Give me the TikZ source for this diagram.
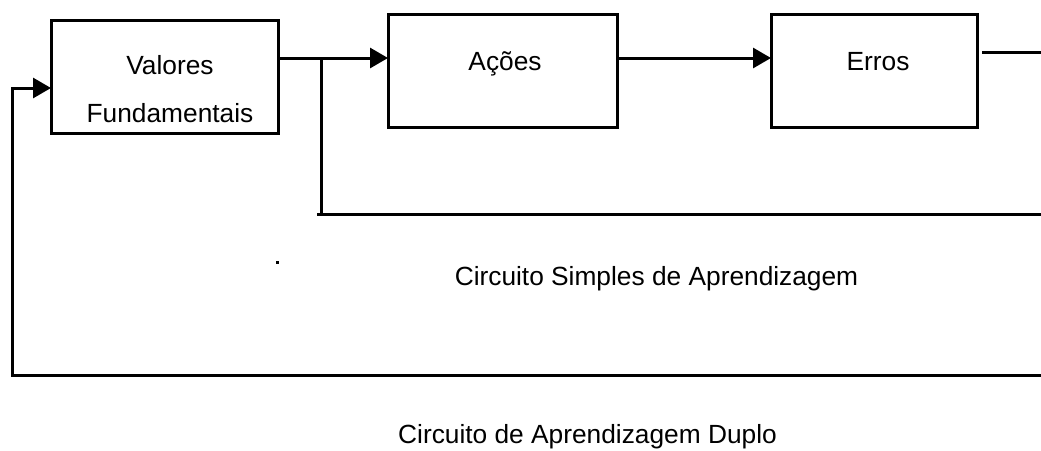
\documentclass[tikz,border=0pt]{standalone}
\usepackage{fontspec}
\setmainfont{Liberation Sans}
\usetikzlibrary{arrows.meta}
\begin{document}
\begin{tikzpicture}[x = 1pt, y = -1pt, line width = 3pt,
		bloco/.style = {draw, rectangle, inner sep = 0, outer sep = 0, minimum height = 113pt},
		rotulo/.style = {anchor = base, inner sep = 0, font = \fontsize{26.3}{48}\selectfont},
		seta/.style = {-{Triangle[length = 18pt, width = 20pt]}}]
	\useasboundingbox (0, 0) rectangle (1041, 450) ;
	\begin{scope} % Blocos
		\node [bloco, minimum width = 227pt] (valores) at (164.5, 76.5) {} ;
		\node [bloco, minimum width = 229pt] (acoes) at (502.5, 70.5) {} ;
		\node [bloco, minimum width = 206pt] (erros) at (874, 70.5) {} ;
		\node [rotulo, align = center] (valorestxt) at (170, 122) {Valores\\Fundamentais} ;
		\node [rotulo] (acoestxt) at (505, 70) {Ações} ;
		\node [rotulo] (errostxt) at (878, 70) {Erros} ;
	\end{scope}
	\coordinate (topo) at (0, 58) ;
	\coordinate (ramo) at (321, 58) ;
	\coordinate (simples) at (321, 214) ;
	\coordinate (simplesfim) at (1041, 214) ;
	\coordinate (saida) at (1041, 52) ;
	\coordinate (entrada) at (12, 88) ;
	\coordinate (duplo) at (12, 375) ;
	\coordinate (duplofim) at (1041, 375) ;
	\begin{scope} % Circuito simples
		\draw (valores.east |- topo) -- (ramo) ;
		\draw [seta] (ramo) -- (acoes.west |- topo) ;
		\draw [seta] (acoes.east |- topo) -- (erros.west |- topo) ;
		\draw (erros.east |- saida) ++(5, 0) -- (saida) ;
		\draw (ramo) -- (simples) ;
		\draw ([xshift = -4pt] simples) -- (simplesfim) ;
		\fill (275.5, 260.5) rectangle (278.5, 263.5) ;
		\node [rotulo] (simplestxt) at (656.5, 285) {Circuito Simples de Aprendizagem} ;
	\end{scope}
	\begin{scope} % Circuito duplo
		\draw [seta] (duplofim) -- (duplo) -- (entrada) -- (valores.west |- entrada) ;
		\node [rotulo] (duplotxt) at (587.5, 443.5) {Circuito de Aprendizagem Duplo} ;
	\end{scope}
\end{tikzpicture}
\end{document}
